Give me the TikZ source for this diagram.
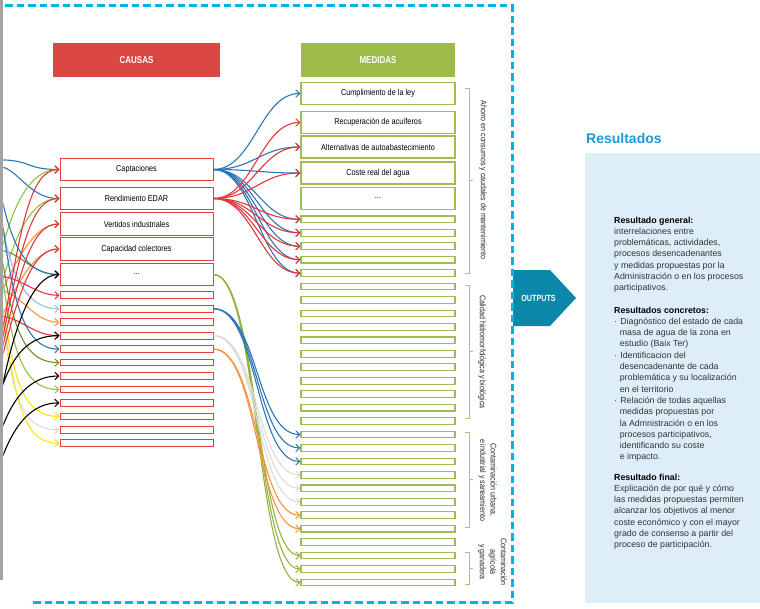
\documentclass[tikz,border=0pt]{standalone}
\usepackage{fontspec}
\setmainfont{Liberation Sans}
\newfontfamily\condfont[FakeStretch=0.85]{Liberation Sans}
\newfontfamily\headfont[FakeStretch=0.8]{Liberation Sans}
\usetikzlibrary{arrows.meta,calc}
\definecolor{dashcyan}{HTML}{00B4E1}
\definecolor{causared}{HTML}{DA4641}
\definecolor{medgreen}{HTML}{9CBB47}
\definecolor{boxred}{HTML}{E53E3E}
\definecolor{boxgreen}{HTML}{9EBE50}
\definecolor{cblue}{HTML}{2E75B6}
\definecolor{cred}{HTML}{E0373C}
\definecolor{cgreen}{HTML}{8CC43F}
\definecolor{colive}{HTML}{6E8B2E}
\definecolor{corange}{HTML}{F7923A}
\definecolor{cyellow}{HTML}{FFE30A}
\definecolor{cgray}{HTML}{DCDCDC}
\definecolor{clav}{HTML}{CFC6DC}
\definecolor{clblue}{HTML}{A9C8E8}
\definecolor{cagreen}{HTML}{92B441}
\definecolor{outteal}{HTML}{0B87AA}
\definecolor{restitle}{HTML}{1B9AD6}
\definecolor{panelblue}{HTML}{DDEEF9}
\definecolor{bargray}{HTML}{A3A3A3}
\definecolor{txt}{HTML}{333333}
\definecolor{bracecol}{HTML}{A9C46C}
\newcommand{\lcurve}[6]{\coordinate (#1) at (#2);\draw[conn,#3] (#1) .. controls ($(#1)+(#4)$) and ($(#6.west)+(#5)$) .. (#6.west);}
\begin{document}
\begin{tikzpicture}[x=1pt,y=-1pt,
  conn/.style={line width=1.1pt,-{Straight Barb[length=4pt,width=7.5pt,line width=1pt]}},
  redbox/.style={draw=boxred,line width=1pt,fill=white,minimum width=153pt,minimum height=22.5pt,inner sep=0pt,font=\condfont\fontsize{8.6}{9}\selectfont,text=black},
  redsmall/.style={draw=boxred,line width=1pt,fill=white,minimum width=153pt,minimum height=6.7pt,inner sep=0pt},
  greenbox/.style={draw=boxgreen,line width=1.1pt,fill=white,minimum width=154pt,minimum height=22pt,inner sep=0pt,font=\condfont\fontsize{8.6}{9}\selectfont,text=black},
  greensmall/.style={draw=boxgreen,line width=1.1pt,fill=white,minimum width=154pt,minimum height=6.7pt,inner sep=0pt},
  headbox/.style={minimum height=34pt,inner sep=0pt,text=white,font=\headfont\bfseries\fontsize{10}{11}\selectfont},
  sidelabel/.style={rotate=-90,align=center,font=\condfont\fontsize{8.3}{10.5}\selectfont,text=black!85,inner sep=0pt},
  bracket/.style={draw=bracecol,line width=0.9pt},
  paneltext/.style={anchor=north west,align=left,inner sep=0pt,text=txt,font=\fontsize{8.8}{11.3}\selectfont}
]
\useasboundingbox (0,0) rectangle (760,608);
% right panel
\fill[panelblue] (585,153) rectangle (760,603);
\node[anchor=west,inner sep=0pt,text=restitle,font=\bfseries\fontsize{14}{16}\selectfont] (restit) at (586,138) {Resultados};
\node[paneltext] (pgen) at (614,216.5) {\textbf{\color{black}Resultado general:}\\interrelaciones entre\\problemáticas, actividades,\\procesos desencadenantes\\y medidas propuestas por la\\Administración o en los procesos\\participativos.};
\node[paneltext] (pcon) at (614,306.5) {\textbf{\color{black}Resultados concretos:}\\·\hspace{3.2pt}Diagnóstico del estado de cada\\\hspace*{5.6pt}masa de agua de la zona en\\\hspace*{5.6pt}estudio (Baix Ter)\\·\hspace{3.2pt}Identificacion del\\\hspace*{5.6pt}desencadenante de cada\\\hspace*{5.6pt}problemática y su localización\\\hspace*{5.6pt}en el territorio\\·\hspace{3.2pt}Relación de todas aquellas\\\hspace*{5.6pt}medidas propuestas por\\\hspace*{5.6pt}la Admnistración o en los\\\hspace*{5.6pt}procesos participativos,\\\hspace*{5.6pt}identificando su coste\\\hspace*{5.6pt}e impacto.};
\node[paneltext] (pfin) at (614,473.5) {\textbf{\color{black}Resultado final:}\\Explicación de por qué y cómo\\las medidas propuestas permiten\\alcanzar los objetivos al menor\\coste económico y con el mayor\\grado de consenso a partir del\\proceso de participación.};
% headers
\node[headbox,fill=causared,minimum width=167pt] (causas) at (136.5,60) {CAUSAS};
\node[headbox,fill=medgreen,minimum width=154pt] (medidas) at (378,60) {MEDIDAS};
% causas boxes
\node[redbox] (cap) at (136.5,169.5) {Captaciones};
\node[redbox] (rend) at (136.5,198.5) {Rendimiento EDAR};
\node[redbox] (vert) at (136.5,224) {Vertidos industriales};
\node[redbox] (capa) at (136.5,249) {Capacidad colectores};
\node[redbox] (cdots) at (136.5,274.5) {...};
\foreach \i in {1,...,12} \node[redsmall] (cs\i) at (136.5,{295.3+(\i-1)*13.45}) {};
% medidas boxes
\node[greenbox] (m1) at (378,93.5) {Cumplimiento de la ley};
\node[greenbox] (m2) at (378,122.5) {Recuperación de acuíferos};
\node[greenbox] (m3) at (378,147) {Alternativas de autoabastecimiento};
\node[greenbox] (m4) at (378,173) {Coste real del agua};
\node[greenbox] (m5) at (378,198.3) {...};
\foreach \i in {1,...,28} \node[greensmall] (g\i) at (378,{219.3+(\i-1)*13.45}) {};
% braces and labels
\draw[bracket] (465,88) -- (469,88) -- (469,273) -- (465,273) (469,180.5) -- (473,180.5);
\draw[bracket] (465,285) -- (469,285) -- (469,418) -- (465,418) (469,351.5) -- (473,351.5);
\draw[bracket] (465,432) -- (469,432) -- (469,527) -- (465,527) (469,479.5) -- (473,479.5);
\draw[bracket] (465,552) -- (469,552) -- (469,584) -- (465,584) (469,568) -- (473,568);
\node[sidelabel] (lab1) at (483,180) {Ahorro en consumos y caudales de mantenimiento};
\node[sidelabel] (lab2) at (482,352) {Calidad hidromorfológica y biológica};
\node[sidelabel] (lab3) at (487.5,480) {Contaminación urbana,\\e industrial y saneamiento};
\node[sidelabel] (lab4) at (492.5,562) {Contaminación\\agrícola\\y ganadera};
% right fans
\foreach \t in {m1,m3,m4,g1,g2,g3,g4,g5}
  \draw[conn,cblue] (cap.east) .. controls ($(cap.east)+(40,0)$) and ($(\t.west)+(-40,0)$) .. (\t.west);
\foreach \t in {m2,m3,m4,g1,g2,g3,g4,g5}
  \draw[conn,cred] (rend.east) .. controls ($(rend.east)+(40,0)$) and ($(\t.west)+(-40,0)$) .. (\t.west);
\foreach \t in {g26,g27,g28}
  \draw[conn,cagreen] (cdots.east) .. controls ($(cdots.east)+(45,0)$) and ($(\t.west)+(-45,0)$) .. (\t.west);
\foreach \t in {g20,g21,g22}
  \draw[conn,cgray] (cs4.east) .. controls ($(cs4.east)+(45,0)$) and ($(\t.west)+(-45,0)$) .. (\t.west);
\foreach \t in {g17,g18,g19}
  \draw[conn,cblue] (cs2.east) .. controls ($(cs2.east)+(45,0)$) and ($(\t.west)+(-45,0)$) .. (\t.west);
\foreach \t in {g23,g24}
  \draw[conn,corange] (cs5.east) .. controls ($(cs5.east)+(45,0)$) and ($(\t.west)+(-45,0)$) .. (\t.west);
% left curves
\begin{scope}
\clip (3.3,0) rectangle (66,608);
\lcurve{l1}{-4,160}{cblue}{35,-1}{-35,0}{cap}
\lcurve{l2}{-4,166}{cblue}{22,0}{-32,0}{rend}
\lcurve{l3}{-2,265}{cgreen}{14,-60}{-30,0}{cap}
\lcurve{l4}{-2,300}{cgreen}{14,-60}{-30,0}{rend}
\lcurve{l9}{-2,300}{corange}{18,-40}{-25,0}{vert}
\lcurve{l10}{-2,325}{corange}{18,-40}{-25,0}{capa}
\lcurve{l11}{-4,250}{colive}{25,0}{-30,0}{cdots}
\lcurve{l12}{-1,185}{cblue}{12,60}{-35,0}{cdots}
\lcurve{l15}{-1,205}{clav}{10,70}{-35,0}{cs2}
\lcurve{l16}{-1,200}{clblue}{8,70}{-35,0}{cs2}
\lcurve{l17}{-4,290}{corange}{25,0}{-28,0}{cs3}
\lcurve{l20}{-1,195}{cblue}{12,100}{-38,0}{cs5}
\lcurve{l21}{-1,235}{colive}{12,90}{-38,0}{cs6}
\lcurve{l23}{-1,250}{cgreen}{12,100}{-38,0}{cs8}
\lcurve{l25}{-1,280}{cyellow}{14,100}{-38,0}{cs10}
\lcurve{l26}{-1,300}{cgray}{14,100}{-38,0}{cs11}
\lcurve{l27}{-1,290}{cyellow}{16,110}{-38,0}{cs12}
\lcurve{l5}{-2,356}{cred}{22,-120}{-32,0}{cap}
\lcurve{l6}{-2,362}{cred}{22,-110}{-30,0}{rend}
\lcurve{l7}{-2,368}{cred}{22,-100}{-28,0}{vert}
\lcurve{l8}{-2,374}{cred}{22,-90}{-26,0}{capa}
\lcurve{l14}{-4,276}{cred}{25,0}{-25,0}{cs1}
\lcurve{l18}{-4,316}{cred}{25,0}{-28,0}{cs4}
\lcurve{l13}{-2,410}{black}{14,-80}{-28,0}{cdots}
\lcurve{l19}{-2,400}{black}{14,-50}{-28,0}{cs4}
\lcurve{l22}{-2,440}{black}{14,-45}{-28,0}{cs7}
\lcurve{l24}{-2,470}{black}{14,-45}{-28,0}{cs9}
\end{scope}
\fill[bargray] (0,0) rectangle (3.3,580);
% outputs arrow
\fill[outteal] (513,270) -- (550,270) -- (576,298) -- (550,326) -- (513,326) -- cycle;
\node[inner sep=0pt,text=white,font=\headfont\bfseries\fontsize{9}{10}\selectfont] (outputs) at (538.5,298) {OUTPUTS};
% dashed frame
\draw[dashcyan,line width=3pt,dash pattern=on 7.5pt off 4pt] (5,5) -- (512,5) -- (512,602) -- (29,602);
\end{tikzpicture}
\end{document}
